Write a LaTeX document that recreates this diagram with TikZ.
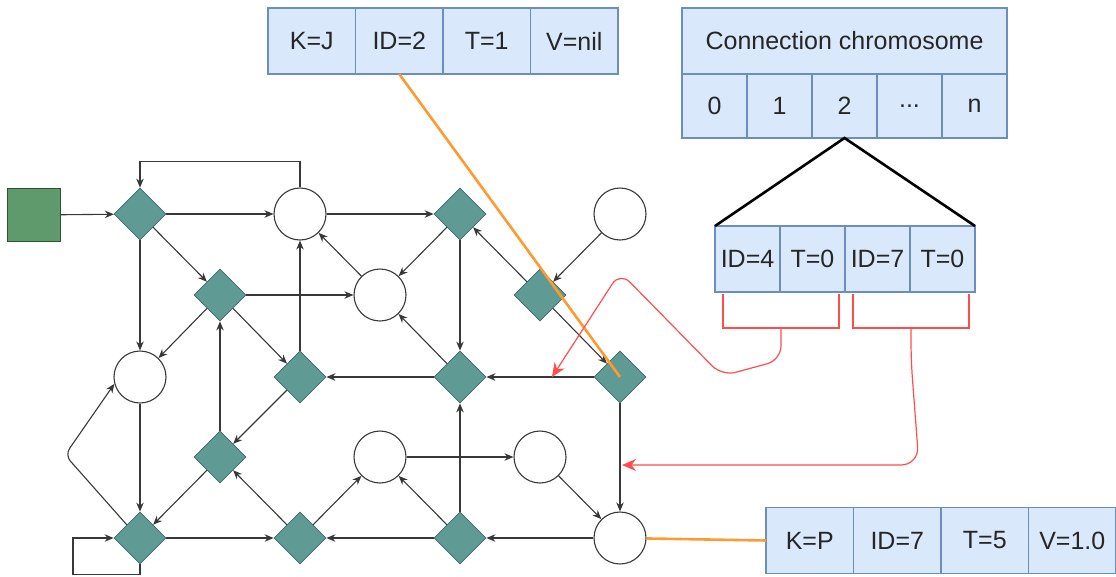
\documentclass[tikz,border=0pt]{standalone}
\usepackage{fontspec}
\setmainfont{Liberation Sans}
\usepackage{xcolor}
\usetikzlibrary{positioning,shapes.geometric,arrows.meta}
\definecolor{cellblue}{HTML}{DAE8FC}
\definecolor{cellline}{HTML}{6C8EBF}
\definecolor{geneteal}{HTML}{5F9A94}
\definecolor{tealline}{HTML}{3D6B66}
\definecolor{inputgreen}{HTML}{5F9A6C}
\definecolor{greenline}{HTML}{2F5233}
\definecolor{linkorange}{HTML}{FF9A30}
\definecolor{mutred}{HTML}{FF4D4D}
\definecolor{edgegray}{HTML}{383838}

\begin{document}
\begin{tikzpicture}[
  x=1pt, y=-1pt,
  line width=1.2pt,
  font=\fontsize{25}{30}\selectfont,
  cell/.style={draw=cellline, fill=cellblue, line width=1.3pt, inner sep=0pt, outer sep=0pt, minimum height=66pt, text=black!85},
  wide/.style={cell, minimum width=87.5pt},
  slot/.style={cell, minimum width=65pt},
  gene/.style={diamond, aspect=1, draw=tealline, fill=geneteal, line width=0.8pt, minimum width=52pt, minimum height=52pt, inner sep=0pt},
  hub/.style={circle, draw=edgegray, fill=white, line width=1.1pt, minimum size=52pt, inner sep=0pt},
  seed/.style={rectangle, draw=greenline, fill=inputgreen, line width=1pt, minimum size=53pt, inner sep=0pt},
  edge/.style={draw=edgegray, line width=1.1pt, -{Stealth[length=9pt,width=7.5pt]}},
  link/.style={draw=linkorange, line width=2.6pt},
  mut/.style={draw=mutred, line width=1.2pt}
]
  \useasboundingbox (0,0) rectangle (1116,576);

  \node[wide] (kj1) at (311.75,41) {K=J};
  \node[wide, right=0pt of kj1] (kj2) {ID=2};
  \node[wide, right=0pt of kj2] (kj3) {T=1};
  \node[wide, right=0pt of kj3] (kj4) {V=nil};

  \node[cell, minimum width=325pt] (chrom) at (844.5,41) {Connection chromosome};
  \node[slot, minimum height=64pt] (cs0) at (714.5,106) {0};
  \node[slot, minimum height=64pt, right=0pt of cs0] (cs1) {1};
  \node[slot, minimum height=64pt, right=0pt of cs1] (cs2) {2};
  \node[slot, minimum height=64pt, right=0pt of cs2] (cs3) {...};
  \node[slot, minimum height=64pt, right=0pt of cs3] (cs4) {n};

  \node[slot] (g1) at (747.5,259) {ID=4};
  \node[slot, right=0pt of g1] (g2) {T=0};
  \node[slot, right=0pt of g2] (g3) {ID=7};
  \node[slot, right=0pt of g3] (g4) {T=0};

  \node[wide] (kp1) at (809.75,540.5) {K=P};
  \node[wide, right=0pt of kp1] (kp2) {ID=7};
  \node[wide, right=0pt of kp2] (kp3) {T=5};
  \node[wide, right=0pt of kp3] (kp4) {V=1.0};

  \node[seed] (src) at (34,215) {};
  \node[gene] (d1) at (140,214) {};
  \node[gene] (d2) at (220,295) {};
  \node[gene] (d3) at (300,377) {};
  \node[gene] (d4) at (460,214) {};
  \node[gene] (d5) at (540,295) {};
  \node[gene] (d6) at (460,377) {};
  \node[gene] (d7) at (620,377) {};
  \node[gene] (d8) at (220,457) {};
  \node[gene] (d9) at (140,538) {};
  \node[gene] (d10) at (300,538) {};
  \node[gene] (d11) at (460,538) {};
  \node[hub] (o1) at (300,214) {};
  \node[hub] (o2) at (380,295) {};
  \node[hub] (o3) at (620,214) {};
  \node[hub] (o4) at (140,377) {};
  \node[hub] (o5) at (380,457) {};
  \node[hub] (o6) at (540,457) {};
  \node[hub] (o7) at (620,538) {};

  \draw[edge] (src) -- (d1);
  \draw[edge] (d1) -- (o1);
  \draw[edge] (o1.north) -- ++(0,-26) -| (d1.north);
  \draw[edge] (o1) -- (d4);
  \draw[edge] (d1) -- (d2);
  \draw[edge] (d1) -- (o4);
  \draw[edge] (d2) -- (o2);
  \draw[edge] (d2) -- (o4);
  \draw[edge] (d2) -- (d3);
  \draw[edge] (d3) -- (o1);
  \draw[edge] (o2) -- (o1);
  \draw[edge] (d4) -- (o2);
  \draw[edge] (d4) -- (d6);
  \draw[edge] (d5) -- (d4);
  \draw[edge] (o3) -- (d5);
  \draw[edge] (d5) -- (d7);
  \draw[edge] (d6) -- (o2);
  \draw[edge] (d6) -- (d3);
  \draw[edge] (d7) -- (d6);
  \draw[edge] (d7) -- (o7);
  \draw[edge] (d3) -- (d8);
  \draw[edge] (d8) -- (d2);
  \draw[edge] (d8) -- (d9);
  \draw[edge] (d10) -- (d8);
  \draw[edge] (o4) -- (d9);
  \draw[edge] (d9) -- (d10);
  \draw[edge] (d11) -- (d10);
  \draw[edge] (d10) -- (o5);
  \draw[edge] (d11) -- (o5);
  \draw[edge] (d11) -- (d6);
  \draw[edge] (o5) -- (o6);
  \draw[edge] (o6) -- (o7);
  \draw[edge] (o7) -- (d11);
  \draw[edge] (d9.south) -- ++(0,10) -- ++(-67,0) |- (d9.west);
  \coordinate (loopbend) at (65,455);
  \draw[edge, rounded corners=8pt] (d9.north west) -- (loopbend) -- (o4.195);

  \draw[link] (kj2.south) -- (d7.center);
  \draw[link] (o7) -- (kp1.west);

  \draw[line width=2.6pt] (g1.north west) -- (cs2.south) -- (g4.north east);

  \coordinate (pair1) at (781,328);
  \coordinate (pair2) at (911,328);
  \coordinate (hit1) at (552,377);
  \coordinate (hit2) at (622,465);
  \draw[mut] (723,294) |- (pair1) -| (839,294);
  \draw[mut] (853,294) |- (pair2) -| (969,294);
  \draw[mut, rounded corners=14pt, -{Stealth[length=14pt,width=12pt]}] (pair1) -- ++(0,32) -- (722,376) -- (620,272) -- (hit1);
  \draw[mut, rounded corners=18pt, -{Stealth[length=14pt,width=12pt]}] (pair2) -- ++(0,32) -- (919,465) -- (hit2);
\end{tikzpicture}
\end{document}
